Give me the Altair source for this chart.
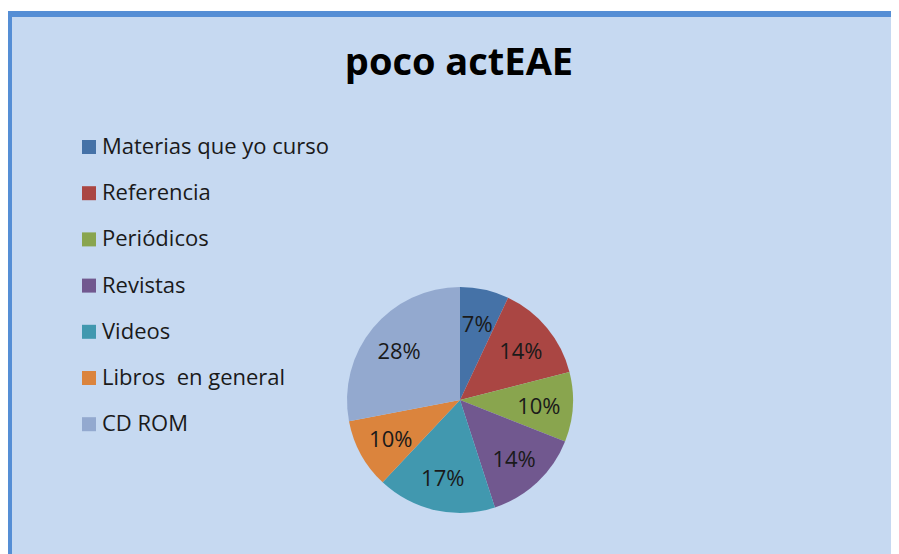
import altair as alt
import pandas as pd

categories = ["Materias que yo curso", "Referencia", "\u00a0Periódicos", "Revistas",
              "Videos", "Libros\u00a0 en general", "CD ROM"]
values = [7, 14, 10, 14, 17, 10, 28]
labels = ["7%", "14%", "10%", "14%", "17%", "10%", "28%"]
colors = ["#4572A7", "#AA4643", "#89A54E", "#71588F", "#4198AF", "#DB843D", "#93A9CF"]
title_text = "poco actEAE"

FONT = "Open Sans"
df = pd.DataFrame({"cat": categories, "val": values, "lab": labels, "order": list(range(len(values)))})
one = pd.DataFrame({"t": [title_text]})

W, H = 883, 546
CX, CY = 452, 392

fill = alt.Chart(one).mark_rect(color="#C6D9F1").encode(
    x=alt.value(-10), x2=alt.value(W + 10), y=alt.value(3), y2=alt.value(H + 10))
top_edge = alt.Chart(one).mark_rect(color="#558ED5").encode(
    x=alt.value(-10), x2=alt.value(W + 10), y=alt.value(3), y2=alt.value(9))
left_edge = alt.Chart(one).mark_rect(color="#558ED5").encode(
    x=alt.value(-10), x2=alt.value(4), y=alt.value(3), y2=alt.value(H + 10))

title = alt.Chart(one).mark_text(font=FONT, fontSize=38, fontWeight="bold", color="#000000",
                                 baseline="alphabetic", align="center").encode(
    text="t:N", x=alt.value(451), y=alt.value(67))

color_enc = alt.Color("cat:N", scale=alt.Scale(domain=categories, range=colors),
                      sort=categories,
                      legend=alt.Legend(title=None, orient="none", legendX=70, legendY=128,
                                        symbolType="square", symbolSize=196, symbolStrokeWidth=0,
                                        labelFont=FONT, labelFontSize=22, labelColor="#1a1a1a",
                                        labelOffset=2, rowPadding=24.2, padding=0, labelLimit=400))

base = alt.Chart(df).encode(
    theta=alt.Theta("val:Q", stack=True),
    order=alt.Order("order:Q"),
)
pie = base.mark_arc(outerRadius=113).encode(
    color=color_enc, x=alt.value(CX), y=alt.value(CY))
text = base.mark_text(radius=79, dy=2, font=FONT, fontSize=22, color="#1a1a1a").encode(
    text="lab:N", x=alt.value(CX), y=alt.value(CY))

chart = alt.layer(fill, top_edge, left_edge, title, pie, text).properties(
    width=W, height=H, autosize=alt.AutoSizeParams(type="none"), padding=0,
    background="white"
).configure_view(stroke=None)

chart.save("out.html", embed_options={"renderer": "svg", "actions": False})
